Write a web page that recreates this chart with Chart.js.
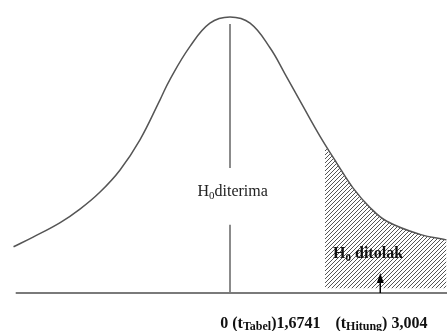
<!DOCTYPE html>
<html>
<head>
<meta charset="utf-8">
<script src="https://cdn.jsdelivr.net/npm/chart.js@4/dist/chart.umd.min.js"></script>
<style>
  body { margin: 0; background: #fff; }
</style>
</head>
<body>
<canvas id="curveChart" width="447" height="331"></canvas>
<script>
  // curve (t value, height)
  const curveT = [-3.99, -3.63, -3.13, -2.76, -2.40, -2.03, -1.66, -1.29, -1.11, -0.74, -0.37, 0,
                  0.37, 0.74, 1.01, 1.35, 1.66, 1.97, 2.27, 2.58, 2.89, 3.50, 3.99];
  const curveY = [0.067, 0.081, 0.102, 0.122, 0.146, 0.178, 0.222, 0.280, 0.309, 0.357, 0.391, 0.400,
                  0.391, 0.355, 0.318, 0.270, 0.227, 0.188, 0.152, 0.124, 0.104, 0.085, 0.077];

  const shadeStart = 1.75;   // where the hatched region begins
  const shadeTop = 0.212;    // curve height at shadeStart
  const arrowT = 2.77;       // arrow under "H0 ditolak"
  const tTabel = "1,6741";
  const tHitung = "3,004";

  // hatched region = curve points from shadeStart on
  const shadeData = [{ x: shadeStart, y: shadeTop }];
  curveT.forEach((t, i) => {
    if (t > shadeStart) shadeData.push({ x: t, y: curveY[i] });
  });

  // diagonal hatch pattern
  const pc = document.createElement("canvas");
  pc.width = 4; pc.height = 4;
  const pctx = pc.getContext("2d");
  pctx.strokeStyle = "#555";
  pctx.lineWidth = 1;
  pctx.beginPath();
  pctx.moveTo(0, 4); pctx.lineTo(4, 0);
  pctx.moveTo(-1, 1); pctx.lineTo(1, -1);
  pctx.moveTo(3, 5); pctx.lineTo(5, 3);
  pctx.stroke();

  const canvas = document.getElementById("curveChart");
  const ctx = canvas.getContext("2d");
  const hatch = ctx.createPattern(pc, "repeat");

  // draws text made of normal and subscript pieces
  function richText(c, x, y, parts, size, bold, subScale) {
    const w = bold ? "bold " : "";
    parts.forEach((p) => {
      if (p.gap) { x += p.gap; return; }
      const s = p.sub ? Math.round(size * subScale) : size;
      c.font = w + s + "px 'Liberation Serif', 'Times New Roman', serif";
      c.fillText(p.text, x, p.sub ? y + size * 0.15 : y);
      x += c.measureText(p.text).width;
    });
  }

  const labelsPlugin = {
    id: "labels",
    afterDraw(chart) {
      const c = chart.ctx;
      const xs = chart.scales.x, ys = chart.scales.y;
      c.save();
      c.textBaseline = "alphabetic";

      // H0 diterima
      c.fillStyle = "#222";
      richText(c, xs.getPixelForValue(-0.6), ys.getPixelForValue(0.149) + 6,
        [{ text: "H" }, { text: "0", sub: true }, { text: "diterima" }], 16, false, 0.7);

      // H0 ditolak
      c.fillStyle = "#111";
      richText(c, xs.getPixelForValue(1.90), ys.getPixelForValue(0.059) + 6,
        [{ text: "H" }, { text: "0", sub: true }, { text: " ditolak" }], 16, true, 0.7);

      // arrow
      const ax = xs.getPixelForValue(arrowT);
      const y0 = ys.getPixelForValue(0);
      c.strokeStyle = "#000";
      c.lineWidth = 1.5;
      c.beginPath();
      c.moveTo(ax, y0);
      c.lineTo(ax, y0 - 12);
      c.stroke();
      c.fillStyle = "#000";
      c.beginPath();
      c.moveTo(ax, y0 - 20);
      c.lineTo(ax - 3.5, y0 - 10);
      c.lineTo(ax + 3.5, y0 - 10);
      c.closePath();
      c.fill();

      // bottom label
      c.fillStyle = "#111";
      richText(c, xs.getPixelForValue(-0.18), y0 + 35,
        [{ text: "0 (t" }, { text: "Tabel", sub: true }, { text: ")" + tTabel },
         { gap: 15 }, { text: "(t" }, { text: "Hitung", sub: true }, { text: ") " + tHitung }], 16, true, 0.72);
      c.restore();
    },
  };

  const chart = new Chart(ctx, {
    type: "line",
    data: {
      datasets: [
        {
          label: "curve",
          data: curveT.map((t, i) => ({ x: t, y: curveY[i] })),
          borderColor: "#555",
          borderWidth: 1.5,
          pointRadius: 0,
          tension: 0.4,
          fill: false,
          clip: false,
          order: 1,
        },
        {
          label: "shade",
          data: shadeData,
          borderWidth: 0,
          borderColor: "rgba(0,0,0,0)",
          backgroundColor: hatch,
          pointRadius: 0,
          tension: 0.4,
          fill: { value: 0.007 },
          order: 3,
        },
        {
          label: "center",
          data: [{ x: 0, y: 0.390 }, { x: 0, y: 0.181 }, { x: null, y: null }, { x: 0, y: 0.099 }, { x: 0, y: 0 }],
          borderColor: "#666",
          borderWidth: 1.5,
          pointRadius: 0,
          spanGaps: false,
          clip: false,
          order: 2,
        },
        {
          label: "base",
          data: [{ x: -3.95, y: 0 }, { x: 4, y: 0 }],
          borderColor: "#7a7a7a",
          borderWidth: 2,
          pointRadius: 0,
          clip: false,
          order: 0,
        },
      ],
    },
    options: {
      responsive: false,
      animation: false,
      layout: { padding: { left: 13, right: 0, top: 17, bottom: 38 } },
      scales: {
        x: { type: "linear", min: -4, max: 4, display: false },
        y: { min: 0, max: 0.4, display: false },
      },
      plugins: { legend: { display: false }, tooltip: { enabled: false } },
    },
    plugins: [labelsPlugin],
  });
</script>
</body>
</html>
